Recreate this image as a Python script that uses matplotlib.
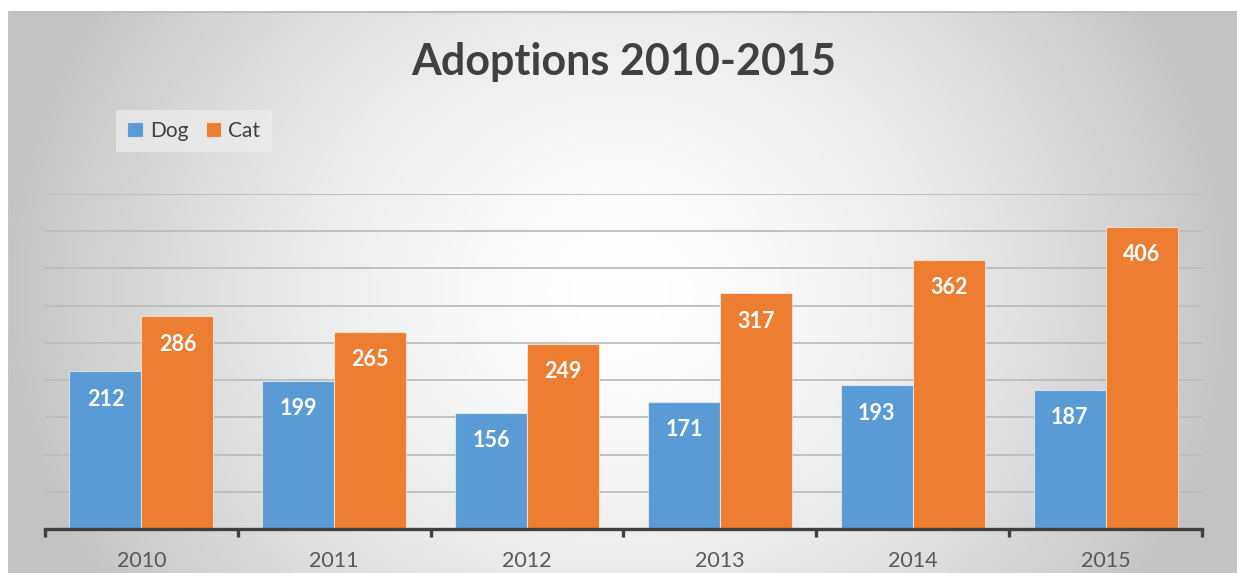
import numpy as np
import matplotlib
matplotlib.use("Agg")
import matplotlib.pyplot as plt

years = ["2010", "2011", "2012", "2013", "2014", "2015"]
dog = [212, 199, 156, 171, 193, 187]
cat = [286, 265, 249, 317, 362, 406]
series_names = ["Dog", "Cat"]
title = "Adoptions 2010-2015"

BLUE = "#5B9BD5"
ORANGE = "#ED7D31"
FONT = ["Lato", "DejaVu Sans"]

W, H = 1237, 573
fig = plt.figure(figsize=(W / 100, H / 100), dpi=100)
fig.patch.set_facecolor("white")

# background gradient panel
bx0, by1 = 8, 11
bg = fig.add_axes([bx0 / W, 0, 1 - bx0 / W, (H - by1) / H], zorder=-5)
bw, bh = W - bx0, H - by1
yy, xx = np.mgrid[0:bh, 0:bw]
cx, cy = 612, 280
r = np.sqrt(((xx - cx) / 620.0) ** 2 + ((yy - cy) / 560.0) ** 2)
val = 1 - 0.235 * np.clip(r, 0, 1) ** 1.6
img = np.dstack([val, val, val])
bg.imshow(img, aspect="auto", extent=[0, bw, bh, 0], interpolation="bilinear")
bg.set_xlim(0, bw)
bg.set_ylim(bh, 0)
bg.axis("off")
bg.plot([0, bw], [0.5, 0.5], color="#bdbdbd", lw=1.5, solid_capstyle="butt")
bg.plot([0.5, 0.5], [0, bh], color="#c8c8c8", lw=1.0)

# main axes
ax_l, ax_r = 45 / W, 1202 / W
ax_b = (H - 529) / H
ax_t = (H - 194) / H
ax = fig.add_axes([ax_l, ax_b, ax_r - ax_l, ax_t - ax_b])
ax.set_facecolor("none")

x = np.arange(len(years))
bwid = 0.373
b1 = ax.bar(x - bwid / 2, dog, bwid, color=BLUE, edgecolor=(1, 1, 1, 0.55), linewidth=0.8, label=series_names[0], zorder=3)
b2 = ax.bar(x + bwid / 2, cat, bwid, color=ORANGE, edgecolor=(1, 1, 1, 0.55), linewidth=0.8, label=series_names[1], zorder=3)

for bars, vals in ((b1, dog), (b2, cat)):
    for rect, v in zip(bars, vals):
        ax.annotate(str(v), (rect.get_x() + rect.get_width() / 2, v),
                    xytext=(0, -28), textcoords="offset pixels",
                    ha="center", va="center", color="white",
                    fontsize=15.5, fontweight="bold", family=FONT, zorder=4)

ax.set_xlim(-0.5, len(years) - 0.5)
ax.set_ylim(0, 450)
ax.set_yticks(np.arange(50, 451, 50))
ax.yaxis.grid(True, color="#bcbcbc", lw=1.3, zorder=0)
ax.tick_params(axis="y", left=False, labelleft=False)
for s in ("top", "right", "left"):
    ax.spines[s].set_visible(False)
ax.spines["bottom"].set_color("#404040")
ax.spines["bottom"].set_linewidth(2.4)
ax.spines["bottom"].set_zorder(5)

ax.set_xticks(x)
ax.set_xticklabels(years, fontsize=15.5, color="#595959", family=FONT)
ax.tick_params(axis="x", which="major", length=0, pad=16)
ax.set_xticks(np.arange(-0.5, len(years)), minor=True)
ax.tick_params(axis="x", which="minor", length=6, width=2.4, color="#404040", direction="out")

fig.text(624 / W, 1 - 62 / H, title, ha="center", va="center",
         fontsize=31, fontweight="bold", color="#404040", family=FONT)

# legend
leg = fig.legend(handles=[b1, b2], labels=series_names,
                 loc="center left", bbox_to_anchor=(116 / W, 1 - 131 / H),
                 borderaxespad=0, ncol=2, frameon=True, fancybox=False,
                 handlelength=0.75, handleheight=0.75, handletextpad=0.35,
                 columnspacing=0.8, borderpad=0.55,
                 prop={"family": FONT, "size": 15})
leg.get_frame().set_facecolor("#ececec")
leg.get_frame().set_alpha(0.75)
leg.get_frame().set_edgecolor("none")
for t in leg.get_texts():
    t.set_color("#404040")

fig.savefig("out.png", dpi=100)
